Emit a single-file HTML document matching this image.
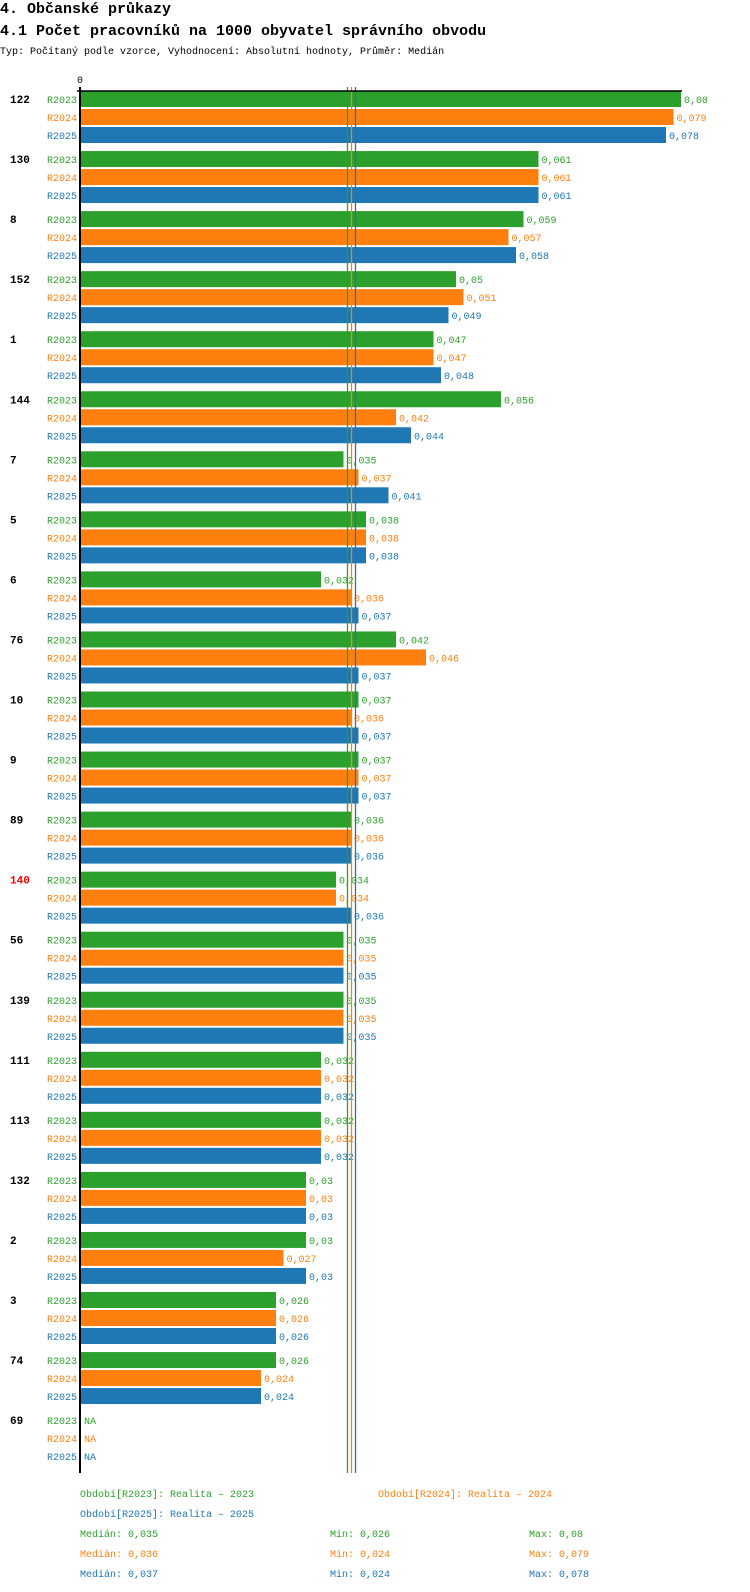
<!DOCTYPE html>
<html><head><meta charset="utf-8"><style>
body{margin:0;background:#fff;width:750px;height:1592px;overflow:hidden;font-family:"Liberation Mono",monospace}
svg{display:block}
</style></head><body>
<svg id="c" width="750" height="1592" xmlns="http://www.w3.org/2000/svg" font-family="Liberation Mono, monospace">
<text x="0" y="13" font-size="15" font-weight="bold">4. Občanské průkazy</text>
<text x="0" y="35" font-size="15" font-weight="bold">4.1 Počet pracovníků na 1000 obyvatel správního obvodu</text>
<text x="0" y="54" font-size="10">Typ: Počítaný podle vzorce, Vyhodnocení: Absolutní hodnoty, Průměr: Medián</text>
<text x="80" y="83" font-size="10" text-anchor="middle">0</text>
<g id="bars"></g>
<g id="legend"></g>
</svg>
<script>
const categories=["122","130","8","152","1","144","7","5","6","76","10","9","89","140","56","139","111","113","132","2","3","74","69"];
const r2023=[.08,.061,.059,.05,.047,.056,.035,.038,.032,.042,.037,.037,.036,.034,.035,.035,.032,.032,.03,.03,.026,.026,null];
const r2024=[.079,.061,.057,.051,.047,.042,.037,.038,.036,.046,.036,.037,.036,.034,.035,.035,.032,.032,.03,.027,.026,.024,null];
const r2025=[.078,.061,.058,.049,.048,.044,.041,.038,.037,.037,.037,.037,.036,.036,.035,.035,.032,.032,.03,.03,.026,.024,null];
const seriesNames=["R2023","R2024","R2025"];
const colors=["#2ca02c","#ff7f0e","#1f77b4"];
const medianLine=[.0355,.036,.0365];
const medians=["0,035","0,036","0,037"];
const mins=["0,026","0,024","0,024"];
const maxs=["0,08","0,079","0,078"];
const highlight="140";
const NS="http://www.w3.org/2000/svg";
const X0=81, SCALE=7500;
const x=v=>X0+v*SCALE;
const gy=i=>99+i*60.05;
const g=document.getElementById('bars');
function mk(tag,attrs,parent,text){const e=document.createElementNS(NS,tag);for(const k in attrs)e.setAttribute(k,attrs[k]);if(text!=null)e.textContent=text;parent.appendChild(e);return e;}
const data=[r2023,r2024,r2025];
const fmt=v=>String(v).replace('0.','0,');
categories.forEach((c,i)=>{
  const cy=gy(i);
  const cl=mk('text',{x:10,y:cy+4,'font-size':11,'font-weight':'bold',fill:c===highlight?'#ff0000':'#000'},g,c);
  
  
  data.forEach((s,j)=>{
    const yc=cy+j*18;
    const sl=mk('text',{x:77,y:yc+4,'font-size':10,'text-anchor':'end',fill:colors[j]},g,seriesNames[j]);
    
    
    const v=s[i];
    if(v!=null){
      const r=mk('rect',{x:X0,y:yc-8,width:x(v)-X0,height:16,fill:colors[j]},g);
      
      
    }
    const vl=mk('text',{x:(v!=null?x(v):X0)+3,y:yc+4,'font-size':10,fill:colors[j]},g,v!=null?fmt(v):'NA');
    
    
  });
});
medianLine.forEach((m,j)=>{
  const l=mk('line',{x1:Math.round(x(m))+0.5,x2:Math.round(x(m))+0.5,y1:87,y2:1473,stroke:colors[j],'stroke-width':1.3},g);
  
  
});
const ax=mk('line',{x1:80,x2:80,y1:87,y2:1473,stroke:'#000','stroke-width':2},g);


const tx=mk('line',{x1:77,x2:682,y1:91,y2:91,stroke:'#000','stroke-width':1.5},g);


const lg=document.getElementById('legend');
const per=[["Období[R2023]: Realita – 2023",80,1497,0],["Období[R2024]: Realita – 2024",378,1497,1],["Období[R2025]: Realita – 2025",80,1517,2]];
per.forEach(p=>{const t=mk('text',{x:p[1],y:p[2],'font-size':10,fill:colors[p[3]]},lg,p[0]);
  
  });
[0,1,2].forEach(j=>{
  const y=1537+j*20;
  const a=mk('text',{x:80,y:y,'font-size':10,fill:colors[j]},lg,'Medián: '+medians[j]);
  
  
  const b=mk('text',{x:330,y:y,'font-size':10,fill:colors[j]},lg,'Min: '+mins[j]);
  
  
  const c=mk('text',{x:529,y:y,'font-size':10,fill:colors[j]},lg,'Max: '+maxs[j]);
  
  
});
</script>
</body></html>
